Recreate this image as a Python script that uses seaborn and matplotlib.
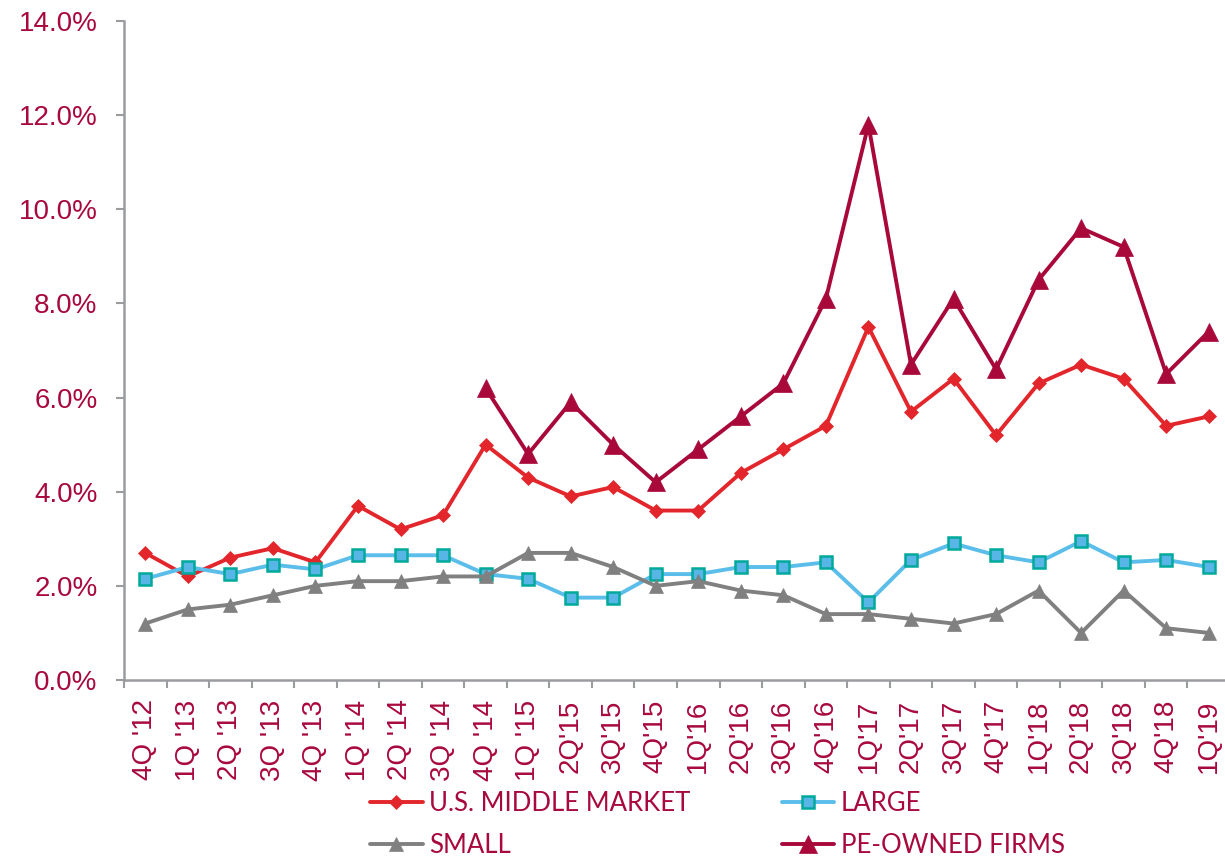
import numpy as np
import pandas as pd
import matplotlib
matplotlib.use("Agg")
import matplotlib.pyplot as plt
import seaborn as sns

quarters = ["4Q '12", "1Q '13", "2Q '13", "3Q '13", "4Q '13",
            "1Q '14", "2Q '14", "3Q '14", "4Q '14", "1Q '15",
            "2Q'15", "3Q'15", "4Q'15", "1Q'16", "2Q'16", "3Q'16", "4Q'16",
            "1Q'17", "2Q'17", "3Q'17", "4Q'17", "1Q'18", "2Q'18", "3Q'18",
            "4Q'18", "1Q'19"]

middle_market = [2.7, 2.2, 2.6, 2.8, 2.5, 3.7, 3.2, 3.5, 5.0, 4.3, 3.9, 4.1, 3.6,
                 3.6, 4.4, 4.9, 5.4, 7.5, 5.7, 6.4, 5.2, 6.3, 6.7, 6.4, 5.4, 5.6]
large = [2.15, 2.4, 2.25, 2.45, 2.35, 2.65, 2.65, 2.65, 2.25, 2.15, 1.75, 1.75, 2.25,
         2.25, 2.4, 2.4, 2.5, 1.65, 2.55, 2.9, 2.65, 2.5, 2.95, 2.5, 2.55, 2.4]
small = [1.2, 1.5, 1.6, 1.8, 2.0, 2.1, 2.1, 2.2, 2.2, 2.7, 2.7, 2.4, 2.0,
         2.1, 1.9, 1.8, 1.4, 1.4, 1.3, 1.2, 1.4, 1.9, 1.0, 1.9, 1.1, 1.0]
pe_owned = [np.nan] * 8 + [6.2, 4.8, 5.9, 5.0, 4.2, 4.9, 5.6, 6.3, 8.1, 11.8,
                           6.7, 8.1, 6.6, 8.5, 9.6, 9.2, 6.5, 7.4]

series_names = ["U.S. MIDDLE MARKET", "LARGE", "SMALL", "PE-OWNED FIRMS"]

TEXT = "#A8093D"
AXIS = "#9A9CA0"

sns.set_style("white")
plt.rcParams["font.family"] = ["Liberation Sans", "DejaVu Sans"]

fig = plt.figure(figsize=(12.25, 8.61), dpi=100)
ax = fig.add_axes([124 / 1225, 1 - 680 / 861, (1230 - 124) / 1225, (680 - 21) / 861])

pos = np.arange(len(quarters))
df = pd.DataFrame({"pos": pos, "mm": middle_market, "large": large,
                   "small": small, "pe": pe_owned})

styles = {
    "mm": dict(color="#E2262B", marker="D", markersize=7.5,
               markerfacecolor="#E2262B", markeredgecolor="#E2262B", markeredgewidth=0.5),
    "large": dict(color="#5BBDEA", marker="s", markersize=8.5,
                  markerfacecolor="#57B6E6", markeredgecolor="#00A99B", markeredgewidth=1.8),
    "small": dict(color="#808080", marker="^", markersize=10.5,
                  markerfacecolor="#808080", markeredgecolor="#808080", markeredgewidth=0.5),
    "pe": dict(color="#A8083A", marker="^", markersize=13,
               markerfacecolor="#A8083A", markeredgecolor="#A8083A", markeredgewidth=0.5),
}

for key, name in zip(["mm", "large", "small", "pe"], series_names):
    sub = df[["pos", key]].dropna()
    sns.lineplot(data=sub, x="pos", y=key, ax=ax, label=name, linewidth=2.8,
                 sort=False, **styles[key])

ax.set_xlim(-0.5, len(quarters) - 0.5)
ax.set_ylim(0, 14)
ax.set_xlabel("")
ax.set_ylabel("")

yt = np.arange(0, 15, 2)
ax.set_yticks(yt)
ax.set_yticklabels([f"{v:.1f}%" for v in yt])
ax.set_xticks(pos)
ax.set_xticklabels(quarters, rotation=90)
ax.set_xticks(np.arange(-0.5, len(quarters), 1), minor=True)

for s in ["top", "right"]:
    ax.spines[s].set_visible(False)
for s in ["left", "bottom"]:
    ax.spines[s].set_color(AXIS)
    ax.spines[s].set_linewidth(1.8)

ax.tick_params(axis="y", which="major", length=6, width=1.5, color=AXIS,
               labelsize=20, labelcolor=TEXT, pad=13, left=True)
ax.tick_params(axis="x", which="major", length=0, labelsize=20,
               labelcolor=TEXT, pad=14)
ax.tick_params(axis="x", which="minor", length=6, width=1.5, color=AXIS,
               bottom=True)
ax.grid(False)

handles, labels = ax.get_legend_handles_labels()
ax.get_legend().remove()
order = [0, 2, 1, 3]
leg = fig.legend([handles[i] for i in order], [labels[i] for i in order],
                 ncol=2, loc="upper left", bbox_to_anchor=(370 / 1225, 1 - 791 / 861),
                 frameon=False, borderpad=0, borderaxespad=0,
                 handlelength=2.05, handletextpad=0.25, columnspacing=3.55,
                 labelspacing=0.66, prop={"family": ["Lato", "DejaVu Sans"], "size": 18.5})
for t in leg.get_texts():
    t.set_color(TEXT)

fig.savefig("out.png", dpi=100)
